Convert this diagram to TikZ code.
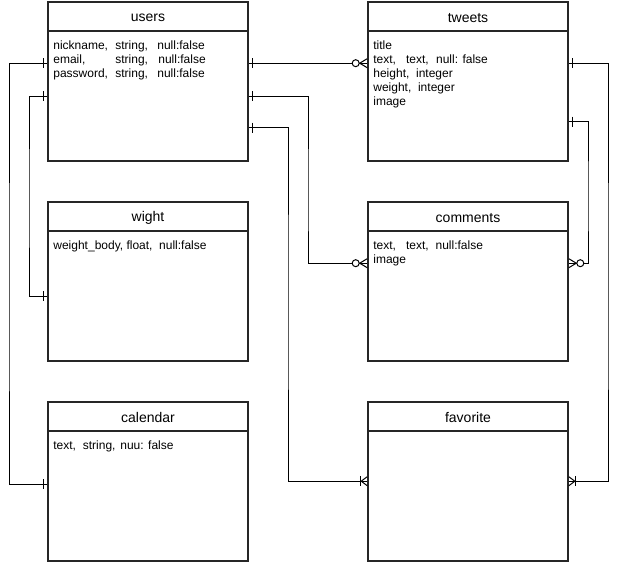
\documentclass[tikz,border=0pt]{standalone}
\usepackage{fontspec}
\setmainfont{Liberation Sans}
\begin{document}
\begin{tikzpicture}[x=1pt,y=-1pt,
  tbl/.style={draw=black!85, line width=1.6pt, minimum width=200pt, minimum height=159pt, inner sep=0pt, fill=white},
  divider/.style={draw=black!85, line width=1.6pt},
  hdr/.style={font=\fontsize{14}{16}\selectfont, inner sep=0pt},
  body/.style={font=\fontsize{12}{14}\selectfont, align=left, anchor=north west, inner sep=0pt},
  conn/.style={line width=1pt, draw=black},
  erone/.pic={\draw[line width=1pt] (-4,-5) -- (-4,5);},
  erzeromany/.pic={\draw[line width=1pt] (0,-4.5) -- (-7.5,0) -- (0,4.5);
                   \draw[line width=1pt, fill=white] (-11.5,0) circle (3.5pt);},
  eronemany/.pic={\draw[line width=1pt] (0,-4.5) -- (-6,0) -- (0,4.5);
                  \draw[line width=1pt] (-7,-5) -- (-7,5);}]
\useasboundingbox (0,0) rectangle (618,562);

% tables
\node[tbl] (users) at (148,81.5) {};
\node[tbl] (tweets) at (468,81.5) {};
\node[tbl] (wight) at (148,281.5) {};
\node[tbl] (comments) at (468,281.5) {};
\node[tbl] (calendar) at (148,481.5) {};
\node[tbl] (favorite) at (468,481.5) {};

\foreach \t in {users,tweets,wight,comments,calendar,favorite}{
  \draw[divider] ([yshift=-30pt]\t.north west) -- ([yshift=-30pt]\t.north east);
}

\node[hdr] (usersT) at ([yshift=-16.5pt]users.north) {users};
\node[hdr] (tweetsT) at ([yshift=-16.5pt]tweets.north) {tweets};
\node[hdr] (wightT) at ([yshift=-16.5pt]wight.north) {wight};
\node[hdr] (commentsT) at ([yshift=-16.5pt]comments.north) {comments};
\node[hdr] (calendarT) at ([yshift=-16.5pt]calendar.north) {calendar};
\node[hdr] (favoriteT) at ([yshift=-16.5pt]favorite.north) {favorite};

\node[body] (usersB) at ([xshift=6pt,yshift=-38pt]users.north west)
  {\rule{0pt}{10pt}\makebox[62pt][l]{nickname,}\makebox[42pt][l]{string,}null:false\\
   \makebox[62pt][l]{email,}\makebox[43pt][l]{string,}null:false\\
   \makebox[62pt][l]{password,}\makebox[42pt][l]{string,}null:false};
\node[body] (tweetsB) at ([xshift=6pt,yshift=-38pt]tweets.north west)
  {\rule{0pt}{10pt}title\\
   \makebox[32.7pt][l]{text,}\makebox[30pt][l]{text,}null: false\\
   height,\ \ integer\\
   weight,\ \ integer\\
   image};
\node[body] (wightB) at ([xshift=6pt,yshift=-38pt]wight.north west)
  {\rule{0pt}{10pt}weight\_body, float,\ \ null:false};
\node[body] (commentsB) at ([xshift=6pt,yshift=-38pt]comments.north west)
  {\rule{0pt}{10pt}\makebox[32.7pt][l]{text,}\makebox[29.5pt][l]{text,}null:false\\
   image};
\node[body] (calendarB) at ([xshift=6pt,yshift=-38pt]calendar.north west)
  {\rule{0pt}{10pt}\makebox[29.5pt][l]{text,}\makebox[37.5pt][l]{string,}nuu: false};

% bend coordinates
\coordinate (b1) at (9,300);
\coordinate (b2) at (29,200);
\coordinate (b4) at (308,200);
\coordinate (b5) at (288,300);
\coordinate (b6) at (608,300);
\coordinate (b7) at (588,200);

% connector end points
\coordinate (uL1) at ([yshift=-62pt]users.north west);
\coordinate (uL2) at ([yshift=-95pt]users.north west);
\coordinate (uR1) at ([yshift=-62pt]users.north east);
\coordinate (uR2) at ([yshift=-95pt]users.north east);
\coordinate (uR3) at ([yshift=-126.5pt]users.north east);
\coordinate (tL1) at ([yshift=-62pt]tweets.north west);
\coordinate (tR1) at ([yshift=-62pt]tweets.north east);
\coordinate (tR2) at ([yshift=-120.5pt]tweets.north east);
\coordinate (wL) at ([yshift=-95pt]wight.north west);
\coordinate (cL) at ([yshift=-62pt]comments.north west);
\coordinate (cR) at ([yshift=-62pt]comments.north east);
\coordinate (kL) at ([yshift=-83pt]calendar.north west);
\coordinate (fL) at ([yshift=-80pt]favorite.north west);
\coordinate (fR) at ([yshift=-80pt]favorite.north east);

% connectors
\draw[conn] (uL1) -| (b1) |- (kL);
\draw[conn] (uL2) -| (b2) |- (wL);
\draw[conn] (uR1) -- (tL1);
\draw[conn] (uR2) -| (b4) |- (cL);
\draw[conn] (uR3) -| (b5) |- (fL);
\draw[conn] (tR1) -| (b6) |- (fR);
\draw[conn] (tR2) -| (b7) |- (cR);

% cardinality marks
\pic at (uL1) {erone};
\pic at (kL) {erone};
\pic at (uL2) {erone};
\pic at (wL) {erone};
\pic[xscale=-1] at (uR1) {erone};
\pic[xscale=-1] at (uR2) {erone};
\pic[xscale=-1] at (uR3) {erone};
\pic at (tL1) {erzeromany};
\pic at (cL) {erzeromany};
\pic at (fL) {eronemany};
\pic[xscale=-1] at (tR1) {erone};
\pic[xscale=-1] at (tR2) {erone};
\pic[xscale=-1] at (fR) {eronemany};
\pic[xscale=-1] at (cR) {erzeromany};
\end{tikzpicture}
\end{document}
